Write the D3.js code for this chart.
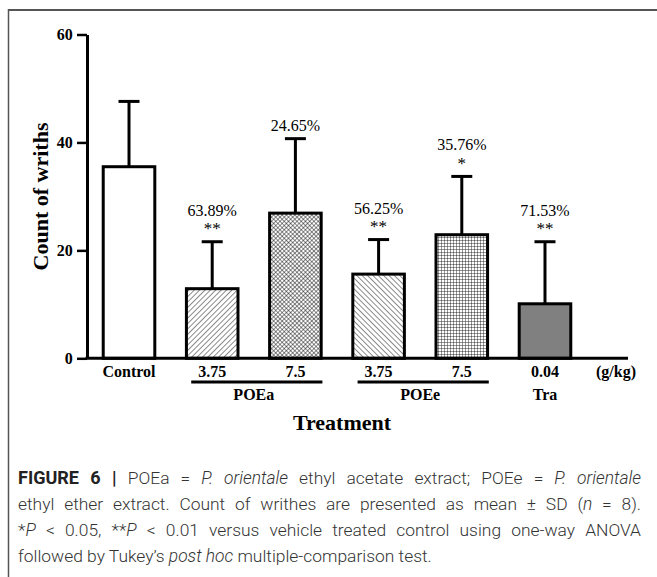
<!DOCTYPE html>
<html>
<head>
<meta charset="utf-8">
<script src="https://cdn.jsdelivr.net/npm/d3@7"></script>
<style>
  html, body { margin: 0; padding: 0; background: #fff; }
  svg { display: block; }
</style>
</head>
<body>
<svg id="chart" width="657" height="577"></svg>
<script>
// ---------- data ----------
const categories = ["Control", "POEa 3.75", "POEa 7.5", "POEe 3.75", "POEe 7.5", "Tra 0.04"];
const doseLabels = ["Control", "3.75", "7.5", "3.75", "7.5", "0.04"];
const means      = [35.5, 12.9, 26.9, 15.6, 22.9, 10.1];
const sds        = [12.1, 8.7, 13.8, 6.4, 10.8, 11.5];
const pctLabels  = ["", "63.89%", "24.65%", "56.25%", "35.76%", "71.53%"];
const sigLabels  = ["", "**", "", "**", "*", "**"];
const groupNames   = ["POEa", "POEe", "Tra"];
const groupMembers = [["POEa 3.75", "POEa 7.5"], ["POEe 3.75", "POEe 7.5"], ["Tra 0.04"]];
const yTicks = [0, 20, 40, 60];
const unitLabel = "(g/kg)";
const xTitle = "Treatment";
const yTitle = "Count of wriths";

// ---------- styles ----------
const fillIds = ["none", "fwd", "diamond", "back", "grid", "gray"];
const serif = "'Liberation Serif', 'Times New Roman', Times, serif";
const sans = "Roboto, 'Liberation Sans', Arial, sans-serif";

const svg = d3.select("#chart");

// frame
svg.append("line").attr("x1", 8).attr("x2", 657).attr("y1", 10).attr("y2", 10)
  .attr("stroke", "#555").attr("stroke-width", 2);
svg.append("line").attr("x1", 8.5).attr("x2", 8.5).attr("y1", 9).attr("y2", 577)
  .attr("stroke", "#555").attr("stroke-width", 1.5);

// patterns
const defs = svg.append("defs");
function linePattern(id, size, angle, sw) {
  const p = defs.append("pattern").attr("id", id).attr("patternUnits", "userSpaceOnUse")
    .attr("width", size).attr("height", size).attr("patternTransform", `rotate(${angle})`);
  p.append("rect").attr("width", size).attr("height", size).attr("fill", "#fff");
  p.append("line").attr("x1", 0).attr("y1", 0).attr("x2", 0).attr("y2", size)
    .attr("stroke", "#000").attr("stroke-width", sw);
}
linePattern("fwd", 3.8, 45, 0.9);
linePattern("back", 3.8, -45, 0.9);
(function () {
  const s = 3.0;
  const p = defs.append("pattern").attr("id", "diamond").attr("patternUnits", "userSpaceOnUse")
    .attr("width", s).attr("height", s).attr("patternTransform", "rotate(45)");
  p.append("rect").attr("width", s).attr("height", s).attr("fill", "#fff");
  p.append("path").attr("d", `M0,0V${s}M0,0H${s}`).attr("stroke", "#000").attr("stroke-width", 0.9);
  const g = defs.append("pattern").attr("id", "grid").attr("patternUnits", "userSpaceOnUse")
    .attr("width", s).attr("height", s);
  g.append("rect").attr("width", s).attr("height", s).attr("fill", "#fff");
  g.append("path").attr("d", `M0,0V${s}M0,0H${s}`).attr("stroke", "#000").attr("stroke-width", 0.8);
})();
function fillFor(i) {
  const id = fillIds[i];
  if (id === "none") return "#fff";
  if (id === "gray") return "#808080";
  return `url(#${id})`;
}

// scales
const x = d3.scaleBand().domain(categories).range([87, 587]).paddingInner(0.38).paddingOuter(0.195);
const y = d3.scaleLinear().domain([0, 60]).range([358.3, 34.5]);
const cx = c => x(c) + x.bandwidth() / 2;

const data = categories.map((c, i) => ({ c, i, mean: means[i], sd: sds[i], pct: pctLabels[i], sig: sigLabels[i] }));

// error bars
const eb = svg.append("g").attr("stroke", "#000").attr("stroke-width", 3);
data.forEach(d => {
  eb.append("line").attr("x1", cx(d.c)).attr("x2", cx(d.c))
    .attr("y1", y(d.mean)).attr("y2", y(d.mean + d.sd));
  eb.append("line").attr("x1", cx(d.c) - 10.5).attr("x2", cx(d.c) + 10.5)
    .attr("y1", y(d.mean + d.sd)).attr("y2", y(d.mean + d.sd));
});

// bars
svg.append("g").selectAll("rect").data(data).join("rect")
  .attr("x", d => x(d.c)).attr("width", x.bandwidth())
  .attr("y", d => y(d.mean)).attr("height", d => y(0) - y(d.mean))
  .attr("fill", d => fillFor(d.i)).attr("stroke", "#000").attr("stroke-width", 3);

// annotations
const ann = svg.append("g");
function serifText(g, xx, yy, txt, size, weight) {
  return g.append("text").attr("x", xx).attr("y", yy).attr("text-anchor", "middle")
    .style("font-family", serif).style("font-size", size + "px").style("font-weight", weight || "normal")
    .attr("fill", "#000").text(txt);
}
data.forEach(d => {
  const top = y(d.mean + d.sd);
  if (d.sig) {
    serifText(ann, cx(d.c), top - 7.5, d.sig, 17);
    serifText(ann, cx(d.c), top - 26, d.pct, 16);
  } else if (d.pct) {
    serifText(ann, cx(d.c), top - 8, d.pct, 16);
  }
});

// y axis
const yAxis = svg.append("g").attr("transform", "translate(87,0)")
  .call(d3.axisLeft(y).tickValues(yTicks).tickSize(10).tickSizeOuter(0).tickPadding(4.3));
yAxis.select(".domain").attr("stroke", "#000").attr("stroke-width", 3);
yAxis.selectAll(".tick line").attr("stroke", "#000").attr("stroke-width", 2.5);
yAxis.selectAll(".tick text").style("font-family", serif).style("font-weight", "bold")
  .style("font-size", "16px").attr("fill", "#000");

// x axis
const xAxis = svg.append("g").attr("transform", `translate(0,${y(0)})`)
  .call(d3.axisBottom(x).tickSize(0).tickPadding(7.5).tickFormat((c, i) => doseLabels[i]));
xAxis.select(".domain").remove();
xAxis.selectAll(".tick text").style("font-family", serif).style("font-weight", "bold")
  .style("font-size", "16px").attr("fill", "#000");
xAxis.append("line").attr("x1", 85.5).attr("x2", 628).attr("y1", 0).attr("y2", 0)
  .attr("stroke", "#000").attr("stroke-width", 3);
serifText(xAxis, 616, 18.7, unitLabel, 16, "bold");

// groups
const gg = svg.append("g");
groupNames.forEach((name, k) => {
  const mem = groupMembers[k];
  const c0 = cx(mem[0]), c1 = cx(mem[mem.length - 1]);
  if (mem.length > 1) {
    gg.append("line").attr("x1", c0 - 21).attr("x2", c1 + 27).attr("y1", 382).attr("y2", 382)
      .attr("stroke", "#000").attr("stroke-width", 3);
  }
  serifText(gg, (c0 + c1) / 2, 400, name, 16, "bold");
});

// axis titles
serifText(svg, 342, 430, xTitle, 22, "bold");
serifText(svg, 0, 0, yTitle, 22, "bold").attr("x", null).attr("y", null)
  .attr("transform", "translate(48,196.5) rotate(-90)");

// caption (justified like the journal layout)
const cap = svg.append("g");
const lines = [
  [["FIGURE 6 | ", "b"], ["POEa = ", ""], ["P. orientale", "i"], [" ethyl acetate extract; POEe = ", ""], ["P. orientale", "i"]],
  [["ethyl ether extract. Count of writhes are presented as mean \u00b1 SD (", ""], ["n", "i"], [" = 8).", ""]],
  [["*", ""], ["P", "i"], [" < 0.05, **", ""], ["P", "i"], [" < 0.01 versus vehicle treated control using one-way ANOVA", ""]],
  [["followed by Tukey\u2019s ", ""], ["post hoc", "i"], [" multiple-comparison test.", ""]]
];
const baselines = [484, 510, 536, 562];
const justify = [true, true, true, false];
const rightEdge = 641;
lines.forEach((segs, li) => {
  const t = cap.append("text").attr("x", 18).attr("y", baselines[li])
    .style("font-family", sans).style("font-size", "17.4px").style("font-weight", 300)
    .attr("fill", "#333").attr("xml:space", "preserve");
  segs.forEach(([s, st]) => {
    const ts = t.append("tspan").text(s);
    if (st === "b") ts.style("font-weight", 700).style("font-size", "18px").attr("fill", "#222");
    if (st === "i") ts.style("font-style", "italic");
  });
  if (justify[li]) {
    const natural = t.node().getComputedTextLength();
    const nSpaces = segs.map(s => s[0]).join("").split(" ").length - 1;
    const extra = (rightEdge - 18 - natural) / nSpaces;
    if (extra > 0) t.style("word-spacing", extra + "px");
  }
});
</script>
</body>
</html>
